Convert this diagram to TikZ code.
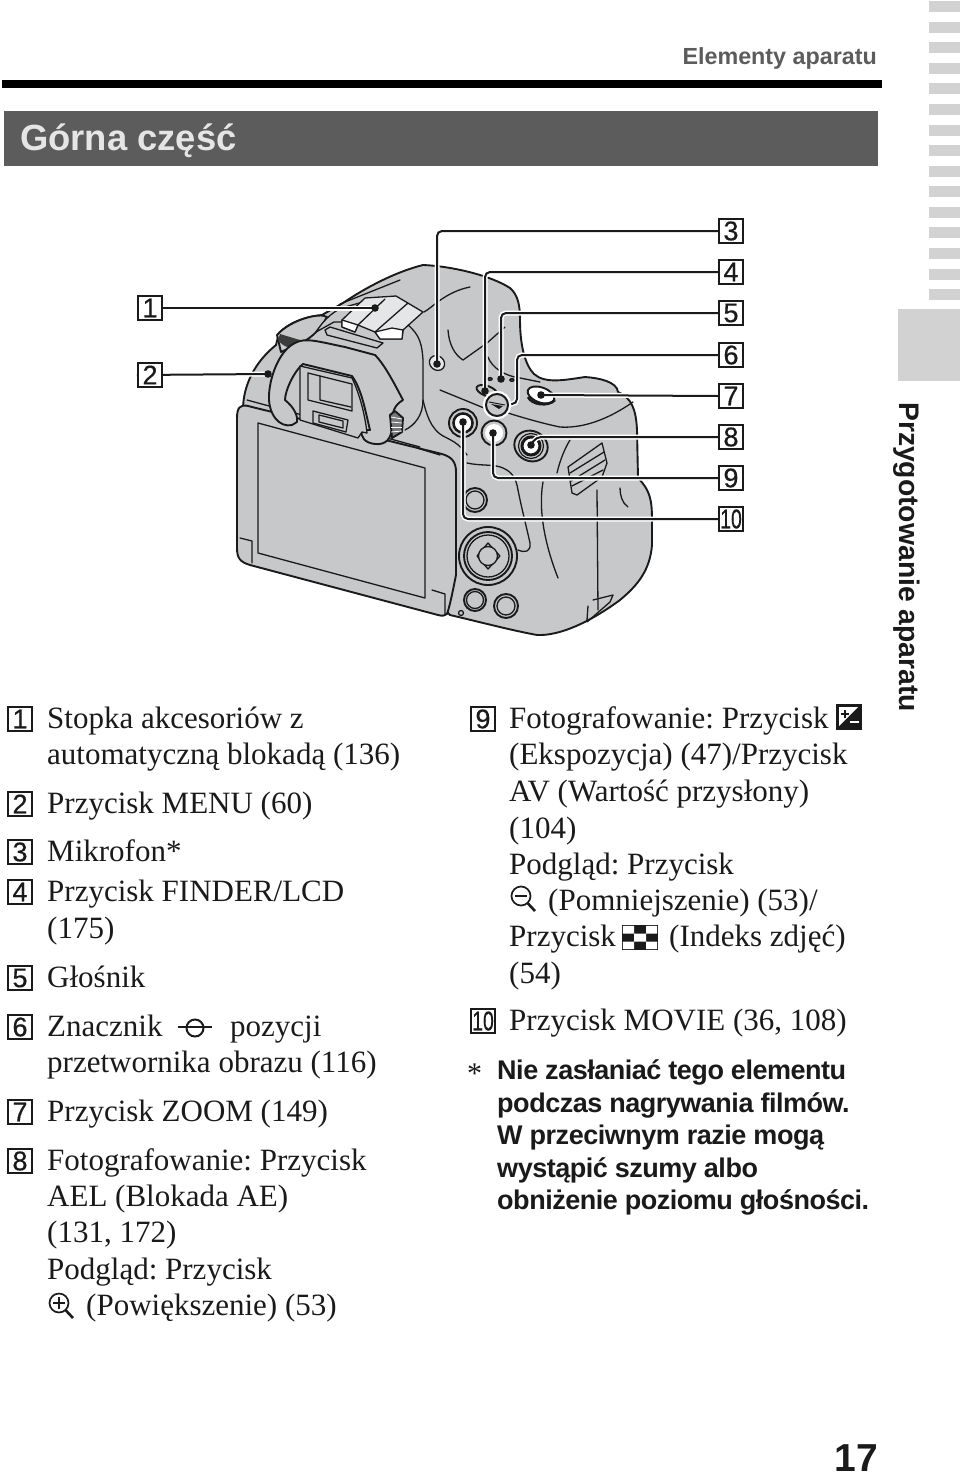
\documentclass[tikz,border=0pt]{standalone}
\usepackage{graphicx}
\usepackage{fontspec}
\setmainfont{Liberation Serif}
\newfontfamily\hv{Liberation Sans}
\newfontfamily\hvn[FakeBold=0.5]{Liberation Sans}
\newfontfamily\hvt[LetterSpace=-1.8]{Liberation Sans}
\definecolor{cambody}{HTML}{C6C8C9}
\definecolor{tabgray}{HTML}{D2D2D2}
\definecolor{headgray}{HTML}{5C5C5C}
\definecolor{ink}{HTML}{1A1A1A}
\tikzset{
 txt/.style={anchor=base west,inner sep=0pt,text=ink,font=\frenchspacing\fontsize{31}{36}\selectfont},
 note/.style={anchor=base west,inner sep=0pt,text=ink,font=\hvt\bfseries\fontsize{27}{30}\selectfont},
 numbox/.style={draw=ink,line width=1.7pt,minimum size=24.5pt,inner sep=0pt,fill=white,text=ink,font=\hvn\fontsize{27}{27}\selectfont},
 cam/.style={draw=ink,line width=1.9pt,line join=round,line cap=round},
 thin cam/.style={draw=ink,line width=1.3pt,line join=round,line cap=round},
 halo/.style={draw=white,line width=5pt,rounded corners=5pt},
 lead/.style={draw=ink,line width=2pt,rounded corners=5pt}
}
\begin{document}
\begin{tikzpicture}[x=1pt,y=-1pt]
\useasboundingbox (0,0) rectangle (960,1475);
\fill[white] (0,0) rectangle (960,1475);
% page furniture
\node[anchor=base east,inner sep=0pt,text=headgray,font=\hv\bfseries\fontsize{23.3}{24}\selectfont] (chap) at (877,64) {Elementy aparatu};
\fill[black] (2,80) rectangle (882,88);
\fill[headgray] (4,111) rectangle (878,166);
\node[anchor=base west,inner sep=0pt,text=white!90!black,font=\hv\bfseries\fontsize{36.4}{36}\selectfont] (head) at (20,150) {Górna część};
\foreach \y in {1,22,42,63,83,104,125,145,166,186,207,227,248,269,289}
  \fill[tabgray] (929,\y) rectangle (960,\y+10.5);
\fill[tabgray] (898,309) rectangle (960,381);
\node[rotate=-90,anchor=base west,inner sep=0pt,text=ink,font=\hv\bfseries\fontsize{28.3}{28}\selectfont] (side) at (899,402) {Przygotowanie aparatu};
\node[anchor=base east,inner sep=0pt,text=ink,font=\hv\bfseries\fontsize{39}{39}\selectfont] (pg) at (878,1471) {17};

% camera body
\path[cam,fill=cambody] (243,410) .. controls (243,385) and (255,362) .. (276,345)
 -- (279,333) .. controls (290,322) and (305,317) .. (322,315)
 -- (343,303) .. controls (365,288) and (395,272) .. (423,265)
 .. controls (450,266) and (490,275) .. (510,288)
 .. controls (518,295) and (520,305) .. (520,320)
 .. controls (520,345) and (525,365) .. (534,374)
 .. controls (545,384) and (565,380) .. (585,377)
 .. controls (600,378) and (617,382) .. (618,392)
 .. controls (632,398) and (636,410) .. (637,430)
 -- (638,478) .. controls (650,490) and (652,500) .. (652,520)
 -- (652,545) .. controls (650,570) and (638,585) .. (620,600)
 .. controls (590,622) and (560,636) .. (537,635)
 .. controls (510,630) and (480,622) .. (450,615) -- cycle;
% LCD
\path[cam,fill=cambody] (237,418) .. controls (237,408) and (240,404) .. (248,406)
 -- (442,454) .. controls (452,457) and (456,462) .. (456,472)
 -- (456,575) .. controls (452,595) and (450,605) .. (447,614)
 .. controls (445,616) and (442,616) .. (438,615)
 -- (250,565) .. controls (240,562) and (237,558) .. (237,548) -- cycle;
\path[thin cam,fill=cambody] (258,423) -- (425,468) -- (425,598) -- (258,553) -- cycle;
\draw[thin cam] (240,538) -- (252,541) -- (252,563);
\draw[thin cam] (432,590) -- (445,594) -- (445,615);
\draw[thin cam] (417,448) -- (440,455);
\draw[thin cam] (247,400) -- (420,447);
% dial and shoe
\path[cam,fill=cambody] (277,335) .. controls (290,320) and (320,312) .. (327,317) .. controls (320,330) and (310,340) .. (296,345) -- (281,352) -- cycle;
\fill[ink!85] (278,340) .. controls (284,348) and (292,349) .. (298,346) -- (300,340) -- (280,334) -- cycle;
\path[thin cam,fill=cambody] (325,330) -- (330,327) -- (383,343) -- (377,348) -- (327,335) -- cycle;
\path[thin cam,fill=cambody] (316,332) .. controls (325,318) and (335,310) .. (345,307) -- (363,302) -- (345,322) -- (334,322) -- cycle;
\path[thin cam,fill=cambody!45!white] (342,320) -- (365,298) -- (396,296) -- (423,312) -- (403,330) -- (402,339) -- (380,339) -- (375,332) -- (358,325) -- (355,332) -- (342,327) -- cycle;
\path[thin cam,fill=white] (342,320) -- (358,325) -- (355,332) -- (342,327) -- cycle;
\path[thin cam,fill=white] (375,332) -- (392,328) -- (403,330) -- (402,339) -- (380,339) -- cycle;
\draw[thin cam] (358,325) -- (385,299);
\draw[thin cam] (375,332) -- (408,303);
\draw[thin cam] (400,280) -- (340,304);
\draw[thin cam] (424,312) .. controls (432,308) and (445,292) .. (470,287);
\draw[thin cam] (408,325) .. controls (420,335) and (422,345) .. (423,360) -- (423,400) .. controls (423,415) and (415,425) .. (405,430);
\draw[thin cam] (423,400) .. controls (426,412) and (430,430) .. (445,437) .. controls (455,442) and (460,445) .. (467,455);
\draw[thin cam] (448,330) .. controls (449,345) and (455,355) .. (463,360) -- (487,343) -- (505,327);
\draw[thin cam] (440,390) -- (484,408);
\draw[thin cam] (505,412) .. controls (520,417) and (545,424) .. (560,427) .. controls (575,428) and (600,425) .. (633,402);
\draw[thin cam] (488,357) .. controls (492,368) and (505,376) .. (520,378) -- (540,382);
% eyecup
\path[cam,fill=cambody] (292,425) .. controls (280,428) and (268,415) .. (269,395)
 .. controls (270,375) and (280,350) .. (295,343)
 .. controls (305,337) and (320,342) .. (345,347)
 -- (375,355) .. controls (385,365) and (395,385) .. (403,400)
 .. controls (395,405) and (392,410) .. (392,425)
 .. controls (392,440) and (385,445) .. (375,444)
 .. controls (365,443) and (360,437) .. (362,430) -- (370,430)
 .. controls (365,410) and (362,390) .. (352,376)
 -- (303,364) .. controls (295,370) and (285,390) .. (285,400)
 .. controls (295,408) and (298,417) .. (297,422) -- cycle;
\path[thin cam,fill=cambody] (300,366) -- (352,378) .. controls (360,395) and (365,415) .. (367,433) -- (362,432) -- (358,438) -- (300,420) -- cycle;
\path[thin cam,fill=cambody] (308,373) -- (352,384) -- (352,411) -- (308,400) -- cycle;
\draw[thin cam] (320,376) -- (320,400) -- (351,407);
\path[thin cam,fill=cambody] (313,411) -- (348,420) -- (346,432) -- (313,423) -- cycle;
\draw[thin cam] (319,415) -- (343,421) -- (343,428) -- (319,422) -- cycle;
\path[cam,fill=cambody!60!black] (390,415) -- (395,411) -- (403,418) -- (402,432) -- (392,438) -- cycle;
\foreach \t in {0,1,2,3} \draw[white,line width=.8pt] (391,{417+\t*5}) -- (402,{419+\t*4});
% grip and strap lug
\draw[thin cam] (557,473) .. controls (560,460) and (565,448) .. (570,440);
\path[thin cam,fill=cambody] (568,467) -- (602,443) -- (607,463) -- (602,477) -- (577,495) -- (572,493) -- cycle;
\draw[thin cam] (570,473) -- (604,452);
\draw[thin cam] (571,481) -- (605,460);
\draw[thin cam] (572,486) -- (603,470);
\draw[thin cam] (543,482) .. controls (538,510) and (545,545) .. (558,578);
\draw[thin cam] (620,488) .. controls (620,495) and (622,503) .. (628,507);
\draw[thin cam] (467,463) .. controls (480,466) and (495,464) .. (503,468) .. controls (512,472) and (516,478) .. (518,490)
  .. controls (522,510) and (526,525) .. (530,543) .. controls (531,552) and (525,553) .. (518,550);
\draw[thin cam] (597,490) -- (598,610);
\draw[thin cam] (593,600) -- (613,595) -- (610,602) -- (587,622);
\draw[thin cam] (588,606) -- (587,620);
% control buttons
\draw[cam,fill=cambody] (475,500) circle (12);
\draw[thin cam] (475,500) circle (9);
\draw[cam,fill=cambody] (488,556) circle (29);
\draw[cam] (488,556) circle (24);
\draw[thin cam] (488,556) circle (21);
\draw[thin cam] (477,556) -- (488,543) -- (500,556) -- (488,569) -- cycle;
\draw[thin cam,fill=cambody] (488,556) circle (9.5);
\draw[cam,fill=cambody] (475,600) circle (11);
\draw[thin cam] (475,600) circle (8.5);
\draw[cam,fill=cambody] (506,606) circle (12);
\draw[thin cam] (506,606) circle (9);
\draw[thin cam] (461,613) circle (2.5);

% top buttons
\path[thin cam,fill=cambody!45!white,rotate around={-40:(437,363)}] (437,363) ellipse (8 and 7);
\path[cam,fill=white,rotate around={-20:(541,395)}] (541,395) ellipse (14 and 7.5);
\draw[ink,line width=2.6pt] (528,397) .. controls (532,405) and (548,407) .. (555,400);
\path[cam,fill=cambody,rotate around={-20:(487,391)}] (487,391) ellipse (11 and 5);
\draw[ink,line width=1.6pt] (490,379) ellipse (2 and 1.2) (512,380) ellipse (2 and 1.2);
\draw[cam,fill=cambody] (463,423) circle (14);
\draw[ink,line width=2.6pt] (463,423) circle (9.5);
\fill[white] (463,423) circle (8);
\draw[cam,fill=cambody] (494,433) circle (12.5);
\fill[white] (494,433) circle (9);
\path[cam,fill=cambody,rotate around={-25:(531,446)}] (531,446) ellipse (17 and 15);
\draw[ink,line width=1.2pt] (531,446) circle (12.5);
\draw[ink,line width=3pt,fill=white] (531,446) circle (9);

% named anchor points
\coordinate (c1) at (375,308);
\coordinate (c2) at (268,374);
\coordinate (c3) at (437,364);
\coordinate (c4) at (485,391);
\coordinate (c5) at (501,379);
\coordinate (c6) at (507,404);
\coordinate (c7) at (541,395);
\coordinate (c8) at (531,445);
\coordinate (c9) at (493,433);
\coordinate (c10) at (463,422);

\node[numbox] (n1) at (150,308) {1};
\node[numbox] (n2) at (150,375) {2};
\node[numbox] (n3) at (731,231) {3};
\node[numbox] (n4) at (731,272) {4};
\node[numbox] (n5) at (731,313) {5};
\node[numbox] (n6) at (731,355) {6};
\node[numbox] (n7) at (731,396) {7};
\node[numbox] (n8) at (731,437) {8};
\node[numbox] (n9) at (731,478) {9};
\node[numbox] (n10) at (731,519) {\scalebox{.72}[1]{10}};

% leaders: white casing then ink
\foreach \dr in {halo,lead}{
 \draw[\dr] (n1.west) -- (c1);
 \draw[\dr] (n2.west) -- (c2);
 \draw[\dr] (n3.west) -| (c3);
 \draw[\dr] (n4.west) -| (c4);
 \draw[\dr] (n5.west) -| (c5);
 \draw[\dr] (n6.west) -- (517,355) -- (517,404) -- (c6);
 \draw[\dr] (n7.west) -- (c7);
 \draw[\dr] (n8.west) -- (536,437) -- (c8);
 \draw[\dr] (n9.west) -| (c9);
 \draw[\dr] (n10.west) -| (c10);
}
\draw[white,line width=5.5pt] (497,405) circle (11.5);
\draw[ink,line width=2pt,fill=cambody] (497,405) circle (11);
\draw[ink,line width=1pt] (489,402) -- (505,405);
\fill[ink] (491,404) -- (503,406) -- (499,409) -- cycle;
\node[numbox] (n1b) at (150,308) {1};
\node[numbox] (n2b) at (150,375) {2};
\foreach \c in {c1,c2,c3,c4,c5,c7,c8,c9,c10} \fill[ink] (\c) circle (3.8);

% left list
\node[numbox] (a1) at (20,719) {1};
\node[txt] (t1a) at (47,728) {Stopka akcesoriów z};
\node[txt] (t1b) at (47,764) {automatyczną blokadą (136)};
\node[numbox] (a2) at (20,804) {2};
\node[txt] (t2) at (47,813) {Przycisk MENU (60)};
\node[numbox] (a3) at (20,852) {3};
\node[txt] (t3) at (47,861) {Mikrofon*};
\node[numbox] (a4) at (20,892) {4};
\node[txt] (t4a) at (47,901) {Przycisk FINDER/LCD};
\node[txt] (t4b) at (47,938) {(175)};
\node[numbox] (a5) at (20,978) {5};
\node[txt] (t5) at (47,987) {Głośnik};
\node[numbox] (a6) at (20,1027) {6};
\node[txt] (t6a) at (47,1036) {Znacznik};
\node[txt] (t6b) at (230,1036) {pozycji};
\draw[ink,line width=2pt] (195,1028) circle (8.5);
\draw[ink,line width=2pt] (178,1027) -- (212,1027);
\node[txt] (t6c) at (47,1072) {przetwornika obrazu (116)};
\node[numbox] (a7) at (20,1112) {7};
\node[txt] (t7) at (47,1121) {Przycisk ZOOM (149)};
\node[numbox] (a8) at (20,1161) {8};
\node[txt] (t8a) at (47,1170) {Fotografowanie: Przycisk};
\node[txt] (t8b) at (47,1206) {AEL (Blokada AE)};
\node[txt] (t8c) at (47,1242) {(131, 172)};
\node[txt] (t8d) at (47,1279) {Podgląd: Przycisk};
\draw[ink,line width=1.7pt] (59,1303) circle (9.5);
\draw[ink,line width=2.6pt] (65.5,1310) -- (73,1318);
\draw[ink,line width=1.6pt] (53,1303) -- (65,1303) (59,1297) -- (59,1309);
\node[txt] (t8e) at (86,1315) {(Powiększenie) (53)};

% right list
\node[numbox] (b9) at (483,719) {9};
\node[txt] (r1) at (509,728) {Fotografowanie: Przycisk};
\fill[ink] (836,704) rectangle (862,729.5);
\fill[white] (839,707) -- (858,707) -- (839,726) -- cycle;
\draw[ink,line width=1.6pt] (841,714) -- (849,714) (845,710) -- (845,718);
\draw[white,line width=1.6pt] (850,722) -- (859,722);
\node[txt] (r2) at (509,764) {(Ekspozycja) (47)/Przycisk};
\node[txt] (r3) at (509,801) {AV (Wartość przysłony)};
\node[txt] (r4) at (509,838) {(104)};
\node[txt] (r5) at (509,874) {Podgląd: Przycisk};
\draw[ink,line width=1.7pt] (521,896) circle (9.5);
\draw[ink,line width=2.6pt] (527.5,903) -- (535,911);
\draw[ink,line width=1.6pt] (515,896) -- (527,896);
\node[txt] (r6) at (548,910) {(Pomniejszenie) (53)/};
\node[txt] (r7) at (509,946) {Przycisk};
\fill[ink] (622,925) rectangle (658,950);
\fill[white] (622.8,925.8) rectangle (634,933.5) (646,925.8) rectangle (657.2,933.5) (634,933.5) rectangle (646,941.5) (622.8,941.5) rectangle (634,949.2) (646,941.5) rectangle (657.2,949.2);
\node[txt] (r8) at (669,946) {(Indeks zdjęć)};
\node[txt] (r9) at (509,983) {(54)};
\node[numbox] (b10) at (483,1021) {\scalebox{.72}[1]{10}};
\node[txt] (r10) at (509,1030) {Przycisk MOVIE (36, 108)};

% footnote
\node[anchor=base west,inner sep=0pt,text=ink,font=\fontsize{30}{30}\selectfont] (star) at (467,1083) {*};
\node[note] (f1) at (497,1079) {Nie zasłaniać tego elementu};
\node[note] (f2) at (497,1112) {podczas nagrywania filmów.};
\node[note] (f3) at (497,1144) {W przeciwnym razie mogą};
\node[note] (f4) at (497,1177) {wystąpić szumy albo};
\node[note] (f5) at (497,1209) {obniżenie poziomu głośności.};
\end{tikzpicture}
\end{document}
